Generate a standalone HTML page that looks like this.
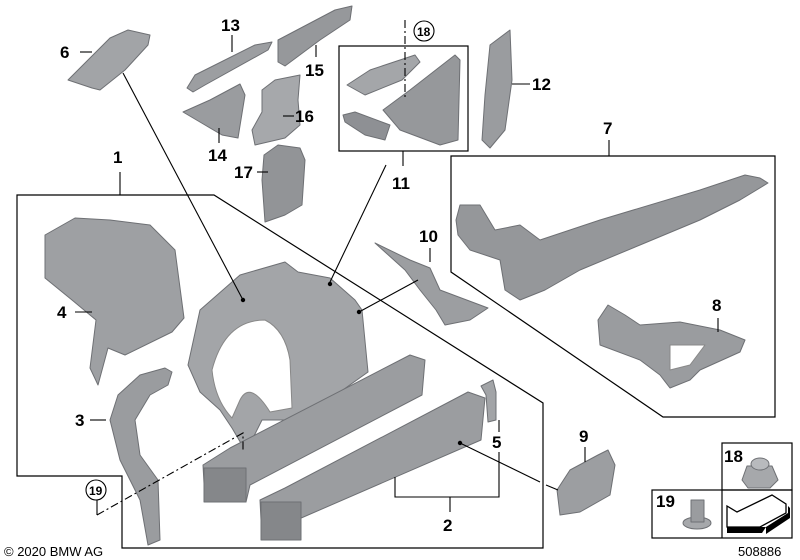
<!DOCTYPE html>
<html><head><meta charset="utf-8"><style>
html,body{margin:0;padding:0;background:#fff;width:800px;height:560px;overflow:hidden}
svg{display:block}
text{font-family:"Liberation Sans",sans-serif;font-weight:bold;font-size:17px;fill:#000}
</style></head><body>
<svg width="800" height="560" viewBox="0 0 800 560" xmlns="http://www.w3.org/2000/svg">
<g fill="none" stroke="#000" stroke-width="1.2">
<polygon points="17,195 214,195 543,403 543,548 122,548 122,476 17,476"/>
<polygon points="451,156 775,156 775,417 663,417 451,272"/>
<rect x="339" y="46" width="129" height="105"/>
<rect x="722" y="443" width="70" height="47"/>
<rect x="652" y="490" width="140" height="48"/>
<line x1="722" y1="490" x2="722" y2="538"/>
</g>
<g stroke="#6e7074" stroke-width="1" stroke-linejoin="round">
<polygon points="68,80 110,38 128,30 150,35 148,45 125,70 100,90 92,88" fill="#a2a4a7"/>
<polygon points="187,88 195,75 255,45 272,42 268,50 205,85 193,92" fill="#9c9ea1"/>
<polygon points="278,62 278,40 335,10 352,6 350,20 320,40 285,66" fill="#96989b"/>
<polygon points="183,112 210,100 240,84 245,95 238,138 222,135 205,125" fill="#9a9c9f"/>
<polygon points="262,90 275,80 300,75 298,100 300,125 285,138 255,145 252,130 262,112" fill="#a6a8ab"/>
<polygon points="264,155 278,145 300,148 305,160 302,205 285,215 265,222 262,180" fill="#929497"/>
<polygon points="347,85 370,70 415,55 420,62 402,80 365,95" fill="#a4a6a9"/>
<polygon points="383,110 410,90 455,55 460,60 458,140 440,145 400,130" fill="#96989b"/>
<polygon points="343,115 355,112 390,125 385,140 365,135 345,122" fill="#8e9094"/>
<polygon points="482,140 485,95 490,45 510,30 512,80 505,130 490,148" fill="#9a9c9f"/>
<polygon points="45,235 75,218 110,220 150,225 175,250 184,318 172,332 125,355 108,348 98,385 90,368 96,320 72,300 45,278" fill="#9ea0a3"/>
<polygon points="110,420 118,395 140,375 165,368 172,372 168,385 150,395 135,420 140,455 158,480 160,540 148,545 140,500 120,460" fill="#9a9c9f"/>
<path d="M188,365 L200,310 L240,275 L285,262 L298,272 L330,278 L355,300 L362,310 L368,372 L340,392 L305,410 L285,420 L262,420 L252,440 L242,445 L232,428 L220,410 L200,392 Z" fill="#a3a5a8"/>
<path d="M212,370 Q225,320 265,320 Q285,330 290,360 L292,408 L270,412 Q250,380 240,400 L232,418 Q215,400 212,370 Z" fill="#fff" stroke="#888"/>
<polygon points="203,465 230,448 410,355 425,360 422,395 250,485 246,502 205,502" fill="#9b9da0"/>
<rect x="204" y="468" width="42" height="34" fill="#85878a"/>
<polygon points="260,500 285,488 468,392 485,398 481,440 292,522 286,540 262,540" fill="#9b9da0"/>
<rect x="261" y="502" width="40" height="38" fill="#85878a"/>
<polygon points="481,386 493,380 496,392 496,420 488,422 486,395" fill="#a2a4a7"/>
<polygon points="375,243 410,260 430,268 440,290 488,308 470,320 445,325 436,310 420,290 405,270" fill="#9c9ea1"/>
<polygon points="456,220 460,205 480,205 495,230 520,225 540,240 555,235 600,220 700,190 745,175 760,178 768,183 740,200 700,220 640,245 580,270 545,290 520,300 505,290 500,260 470,250 458,235" fill="#95979a"/>
<polygon points="598,320 608,305 625,315 640,325 680,322 720,330 745,340 740,352 700,370 690,380 670,388 660,375 640,360 600,345" fill="#9a9c9f"/>
<polygon points="670,345 705,345 690,365 670,370" fill="#fff" stroke="#888"/>
<polygon points="557,490 570,470 598,455 608,450 615,465 610,495 580,512 560,515" fill="#9c9ea1"/>
<polygon points="747,466 772,466 778,480 770,488 748,488 742,480" fill="#a6a8ab"/>
<ellipse cx="760" cy="464" rx="9" ry="6" fill="#b8babd"/>
<ellipse cx="697" cy="523" rx="14" ry="6" fill="#a6a8ab"/>
<rect x="691" y="500" width="13" height="22" fill="#9a9c9f"/>
</g>
<!-- arrow icon -->
<polygon points="727,527 766,527 762,533 727,533" fill="#000"/>
<polygon points="766,527 788,513 788,506 790,508 790,518 766,534" fill="#000"/>
<polygon points="727,506 737,512 772,495 786,504 786,513 760,527 727,527" fill="#fff" stroke="#000" stroke-width="1.3"/>
<g stroke="#000" stroke-width="1.1" fill="none">
<line x1="120" y1="172" x2="120" y2="195"/>
<line x1="609" y1="140" x2="609" y2="156"/>
<line x1="403" y1="151" x2="403" y2="166"/>
<line x1="123" y1="73" x2="243" y2="300"/>
<line x1="386" y1="165" x2="330" y2="282"/>
<line x1="430" y1="248" x2="430" y2="262"/>
<line x1="418" y1="280" x2="359" y2="312"/>
<line x1="75" y1="312" x2="92" y2="312"/>
<line x1="90" y1="420" x2="106" y2="420"/>
<line x1="499" y1="420" x2="499" y2="432"/>
<polyline points="395,477 395,497 499,497 499,452"/>
<line x1="450" y1="497" x2="450" y2="512"/>
<line x1="460" y1="443" x2="540" y2="482"/>
<line x1="546" y1="485" x2="558" y2="490"/>
<line x1="585" y1="447" x2="585" y2="462"/>
<line x1="718" y1="318" x2="718" y2="332"/>
<line x1="512" y1="84" x2="530" y2="84"/>
<line x1="232" y1="35" x2="232" y2="52"/>
<line x1="219" y1="128" x2="219" y2="143"/>
<line x1="316" y1="45" x2="316" y2="57"/>
<line x1="283" y1="116" x2="294" y2="116"/>
<line x1="257" y1="172" x2="268" y2="172"/>
<line x1="80" y1="52" x2="92" y2="52"/>
<polyline points="97,500 97,515"/>
<polyline points="97,515 243,433 243,452" stroke-dasharray="8,3,2,3"/>
<polyline points="405,20 405,100" stroke-dasharray="8,3,2,3"/>
<circle cx="96" cy="490" r="10"/>
<circle cx="424" cy="31" r="10"/>
</g>
<g fill="#000">
<circle cx="243" cy="300" r="2.2"/><circle cx="330" cy="284" r="2.2"/><circle cx="359" cy="312" r="2.2"/><circle cx="460" cy="443" r="2.2"/>
</g>
<text x="113" y="163">1</text>
<text x="443" y="531">2</text>
<text x="75" y="426">3</text>
<text x="57" y="318">4</text>
<text x="492" y="448">5</text>
<text x="60" y="58">6</text>
<text x="603" y="134">7</text>
<text x="712" y="311">8</text>
<text x="579" y="442">9</text>
<text x="419" y="242">10</text>
<text x="392" y="189">11</text>
<text x="532" y="90">12</text>
<text x="221" y="31">13</text>
<text x="208" y="161">14</text>
<text x="305" y="76">15</text>
<text x="295" y="122">16</text>
<text x="234" y="178">17</text>
<text x="724" y="462">18</text>
<text x="656" y="507">19</text>
<text x="417" y="36" style="font-size:12px">18</text>
<text x="89" y="495" style="font-size:12px">19</text>
<text x="4" y="556" style="font-size:13px;font-weight:normal">© 2020 BMW AG</text>
<text x="738" y="556" style="font-size:13px;font-weight:normal">508886</text>
</svg>
</body></html>
